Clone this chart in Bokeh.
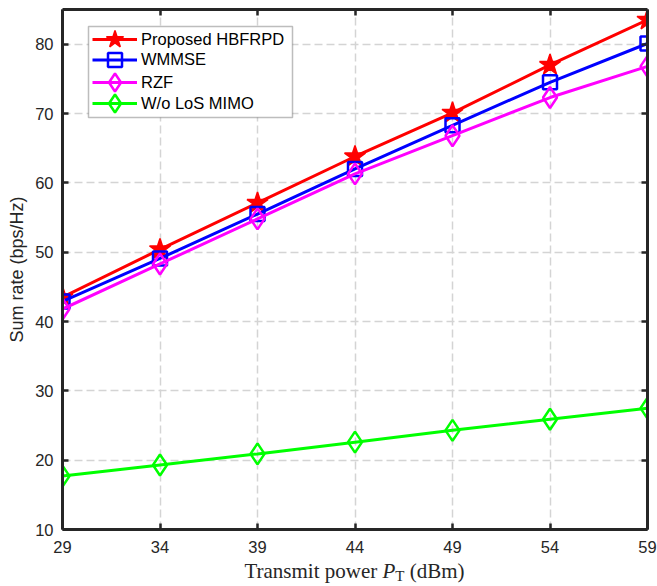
from bokeh.plotting import figure
from bokeh.models import (Range1d, FixedTicker, LinearAxis, Legend, LegendItem,
                          Grid, BoxAnnotation, Div)
from bokeh.layouts import column
from bokeh.embed import file_html
from bokeh.resources import INLINE

# ---- data ----
power_dbm = [29, 34, 39, 44, 49, 54, 59]
proposed_hbfrpd = [43.5, 50.4, 57.1, 63.8, 70.1, 77.0, 83.5]
wmmse = [42.9, 49.1, 55.5, 62.0, 68.3, 74.5, 80.1]
rzf = [41.8, 48.3, 54.8, 61.3, 66.8, 72.3, 76.8]
wo_los_mimo = [17.7, 19.3, 20.9, 22.6, 24.3, 25.9, 27.5]
x_ticks = [29, 34, 39, 44, 49, 54, 59]
y_ticks = [10, 20, 30, 40, 50, 60, 70, 80]
series_names = ["Proposed HBFRPD", "WMMSE", "RZF", "W/o LoS MIMO"]

AX = "#262626"
FONT = "Liberation Sans"

p = figure(width=657, height=560, output_backend="svg", toolbar_location=None,
           x_range=Range1d(29, 59), y_range=Range1d(10, 85),
           min_border_left=62, min_border_right=10, min_border_top=9, min_border_bottom=31,
           x_axis_location=None, y_axis_location=None)
p.outline_line_color = None
p.background_fill_color = "white"
p.border_fill_color = "white"
p.center = [r for r in p.center if not isinstance(r, Grid)]


def style_axis(ax, labels=True):
    ax.axis_line_color = AX
    ax.axis_line_width = 3
    ax.major_tick_line_color = AX
    ax.major_tick_line_width = 2.5
    ax.major_tick_in = 6
    ax.major_tick_out = 0
    ax.minor_tick_line_color = None
    ax.major_label_text_font = FONT
    if labels:
        ax.major_label_text_color = AX
        ax.major_label_text_font_size = "16.5px"
        ax.major_label_standoff = 9
    else:
        ax.major_label_text_color = None
        ax.major_label_text_alpha = 0
        ax.major_label_text_font_size = "1px"
        ax.major_label_standoff = 0


xb = LinearAxis(ticker=FixedTicker(ticks=x_ticks))
yl = LinearAxis(ticker=FixedTicker(ticks=y_ticks), axis_label="Sum rate (bps/Hz)")
xt = LinearAxis(ticker=FixedTicker(ticks=x_ticks))
yr = LinearAxis(ticker=FixedTicker(ticks=y_ticks))
for ax, lab in [(xb, True), (yl, True), (xt, False), (yr, False)]:
    style_axis(ax, lab)
xb.major_label_standoff = 11
yl.axis_label_text_font = FONT
yl.axis_label_text_font_size = "18px"
yl.axis_label_text_font_style = "normal"
yl.axis_label_text_color = AX
yl.axis_label_standoff = 5
p.add_layout(xb, "below")
p.add_layout(yl, "left")
p.add_layout(xt, "above")
p.add_layout(yr, "right")

# dashed grid
gx = Grid(dimension=0, ticker=FixedTicker(ticks=x_ticks))
gy = Grid(dimension=1, ticker=FixedTicker(ticks=y_ticks))
for g in (gx, gy):
    g.grid_line_color = "#d4d4d4"
    g.grid_line_width = 1.5
    g.grid_line_dash = "8 4"
p.add_layout(gx)
p.add_layout(gy)

items = []
l1 = p.line(power_dbm, proposed_hbfrpd, line_color="#ff0000", line_width=3)
s1 = p.scatter(power_dbm, proposed_hbfrpd, marker="star", size=22, fill_color="#ff0000",
               line_color="#ff0000", line_width=1.5)
items.append(LegendItem(label=series_names[0], renderers=[l1, s1]))
l2 = p.line(power_dbm, wmmse, line_color="#0000ff", line_width=3)
s2 = p.scatter(power_dbm, wmmse, marker="square", size=14, fill_color=None,
               line_color="#0000ff", line_width=2.5)
items.append(LegendItem(label=series_names[1], renderers=[l2, s2]))
l3 = p.line(power_dbm, rzf, line_color="#ff00ff", line_width=3)
s3 = p.scatter(power_dbm, rzf, marker="diamond", size=21, fill_color=None,
               line_color="#ff00ff", line_width=2.5)
items.append(LegendItem(label=series_names[2], renderers=[l3, s3]))
l4 = p.line(power_dbm, wo_los_mimo, line_color="#00ff00", line_width=3)
s4 = p.scatter(power_dbm, wo_los_mimo, marker="diamond", size=21, fill_color=None,
               line_color="#00ff00", line_width=2.5)
items.append(LegendItem(label=series_names[3], renderers=[l4, s4]))

# legend frame (white box with dark border)
legend_box = BoxAnnotation(left=88, right=292, top=26, bottom=117,
                           left_units="canvas", right_units="canvas",
                           top_units="canvas", bottom_units="canvas",
                           fill_color="white", fill_alpha=1.0,
                           line_color=AX, line_width=1.5, level="annotation")
p.add_layout(legend_box)

# one legend per row, so that the row pitch stays tight while the markers stay large
row_offsets = [467, 452, 424, 403]   # legend bottoms, px above the frame bottom
row_glyph_h = [46, 35, 46, 46]       # legend marker size follows the glyph box height
for item, off, gh in zip(items, row_offsets, row_glyph_h):
    lg = Legend(items=[item], location=(30, off))
    lg.label_text_font = FONT
    lg.label_text_font_size = "16.5px"
    lg.label_text_color = "black"
    lg.glyph_width = 45
    lg.glyph_height = gh
    lg.label_height = 21
    lg.label_standoff = 4
    lg.padding = 0
    lg.spacing = 0
    lg.margin = 0
    lg.border_line_color = None
    lg.background_fill_alpha = 0
    p.add_layout(lg)

xlabel = Div(
    text='Transmit power <i>P</i><span style="font-size:15px; position:relative; top:3px;">T</span> (dBm)',
    width=657, height=26, margin=0,
    styles={"font-family": "'Liberation Serif', serif", "font-size": "21px",
            "color": AX, "text-align": "center", "line-height": "22px",
            "padding-left": "52px", "box-sizing": "border-box", "white-space": "nowrap"},
)

layout = column(p, xlabel, spacing=0)
open("out.html", "w").write(file_html(layout, INLINE))
